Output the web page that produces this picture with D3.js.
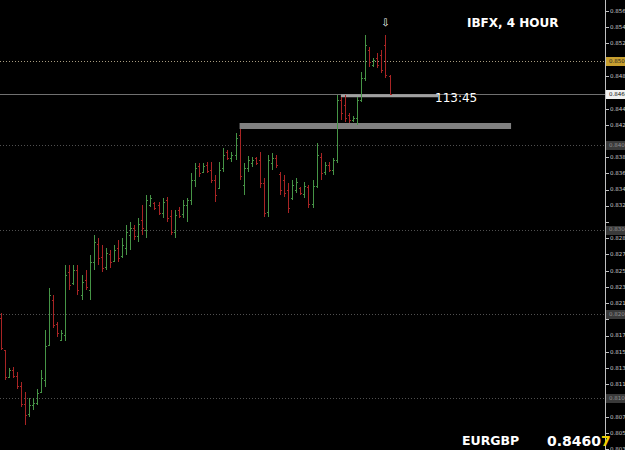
<!DOCTYPE html>
<html>
<head>
<meta charset="utf-8">
<script src="https://cdn.jsdelivr.net/npm/d3@7/dist/d3.min.js"></script>
<style>
body { margin: 0; background: #000; overflow: hidden; }
svg { display: block; }
</style>
</head>
<body>
<div id="chart-area"></div>
<script>
// EURGBP 4H bars, oldest first
var opens = [.8195,.8157,.8125,.8133,.8126,.8114,.8093,.8081,.8092,.8094,.8107,.8121,.8163,.8216,.8188,.8169,.8175,.8250,.8237,.8252,
  .8222,.8240,.8228,.8261,.8283,.8267,.8256,.8271,.8263,.8278,.8268,.8278,.8294,.8302,.8292,.8311,.8299,.8329,.8331,.8329,
  .8320,.8335,.8316,.8297,.8323,.8318,.8329,.8335,.8359,.8375,.8368,.8377,.8371,.8359,.8349,.8373,.8392,.8385,.8388,.8412,
  .8353,.8373,.8379,.8385,.8382,.8355,.8321,.8379,.8385,.8366,.8359,.8347,.8337,.8347,.8349,.8342,.8350,.8330,.8352,.8386,
  .8368,.8377,.8371,.8382,.8454,.8448,.8436,.8430,.8432,.8454,.8480,.8513,.8495,.8504,.8507,.8519,.8482]
var highs = [.8201,.8157,.8136,.8137,.8131,.8119,.8107,.8100,.8100,.8110,.8133,.8181,.8231,.8222,.8190,.8181,.8258,.8258,.8258,.8258,
  .8246,.8252,.8270,.8294,.8290,.8282,.8278,.8276,.8282,.8288,.8290,.8305,.8309,.8305,.8314,.8329,.8341,.8341,.8333,.8333,
  .8337,.8339,.8323,.8323,.8327,.8335,.8337,.8367,.8379,.8379,.8379,.8380,.8380,.8365,.8380,.8397,.8394,.8392,.8415,.8420,
  .8379,.8387,.8386,.8386,.8392,.8361,.8388,.8391,.8388,.8368,.8365,.8355,.8359,.8361,.8350,.8356,.8353,.8359,.8403,.8391,
  .8380,.8380,.8385,.8460,.8458,.8460,.8438,.8435,.8457,.8487,.8531,.8517,.8504,.8510,.8513,.8531,.8483]
var lows = [.8157,.8121,.8124,.8124,.8110,.8089,.8068,.8077,.8086,.8092,.8106,.8113,.8163,.8183,.8172,.8167,.8167,.8228,.8234,.8222,
  .8216,.8228,.8216,.8252,.8258,.8250,.8252,.8254,.8261,.8261,.8266,.8270,.8276,.8288,.8285,.8294,.8290,.8327,.8323,.8317,
  .8314,.8309,.8294,.8290,.8314,.8314,.8309,.8329,.8350,.8362,.8367,.8367,.8355,.8333,.8349,.8368,.8382,.8380,.8382,.8359,
  .8341,.8368,.8374,.8377,.8349,.8315,.8315,.8371,.8373,.8341,.8339,.8320,.8335,.8343,.8341,.8337,.8326,.8326,.8349,.8359,
  .8365,.8368,.8365,.8379,.8430,.8428,.8426,.8428,.8424,.8451,.8477,.8493,.8493,.8492,.8486,.8480,.8460]
var closes = [.8159,.8125,.8133,.8126,.8114,.8093,.8080,.8092,.8094,.8106,.8123,.8161,.8222,.8187,.8177,.8177,.8246,.8234,.8252,.8228,
  .8238,.8232,.8261,.8285,.8266,.8254,.8272,.8261,.8276,.8266,.8282,.8297,.8302,.8292,.8306,.8302,.8335,.8337,.8326,.8320,
  .8333,.8314,.8297,.8317,.8316,.8329,.8335,.8359,.8373,.8367,.8375,.8369,.8359,.8341,.8371,.8388,.8385,.8388,.8409,.8363,
  .8373,.8382,.8382,.8379,.8355,.8320,.8382,.8385,.8377,.8347,.8343,.8326,.8353,.8356,.8343,.8352,.8330,.8352,.8388,.8367,
  .8377,.8371,.8382,.8454,.8438,.8432,.8430,.8432,.8454,.8480,.8519,.8499,.8501,.8496,.8489,.8483,.84607]

var priceTicks = ['0.85600','0.85405','0.85210','0.85015','0.84820','0.84625','0.84430','0.84245','0.84050','0.83860',
  '0.83670','0.83475','0.83285','0.83090','0.82895','0.82705','0.82510','0.82320','0.82130','0.81935',
  '0.81740','0.81545','0.81350','0.81160','0.80965','0.80775','0.80580','0.80390']
var levels = [0.85, 0.84, 0.83, 0.82, 0.81]
var bid = 0.84607
var symbol = 'EURGBP'
var title = 'IBFX, 4 HOUR'
var countdown = '113:45'
var fractalBar = 95
// horizontal objects: from bar, to bar, price
var grayBand = { from: 59, to: 126, price: 0.8423 }
var lightBand = { from: 84, to: 108, price: 0.8459 }

var width = 625
var height = 450
var axisX = 605

var svg = d3.select('#chart-area').append('svg')
    .attr('width', width)
    .attr('height', height)
    .style('background', '#000')

var x = d3.scaleLinear().domain([0, 96]).range([0.5, 389.5])
var y = d3.scaleLinear().domain([0.80, 0.86]).range([482, -23])

var px = v => Math.round(v) + 0.5

// dotted round levels
svg.selectAll('.level').data(levels).enter().append('line')
    .attr('class', 'level')
    .attr('x1', 0).attr('x2', axisX)
    .attr('y1', d => px(y(d))).attr('y2', d => px(y(d)))
    .attr('stroke', (d, i) => i == 0 ? '#a89c80' : '#505050')
    .attr('stroke-dasharray', '1,2')

// bid line
svg.append('line')
    .attr('x1', 0).attr('x2', axisX)
    .attr('y1', px(y(bid))).attr('y2', px(y(bid)))
    .attr('stroke', '#707070')

// drawn bands
svg.append('line')
    .attr('x1', x(grayBand.from)).attr('x2', x(grayBand.to))
    .attr('y1', y(grayBand.price)).attr('y2', y(grayBand.price))
    .attr('stroke', '#808080').attr('stroke-width', 6)

svg.append('line')
    .attr('x1', x(lightBand.from)).attr('x2', x(lightBand.to))
    .attr('y1', y(lightBand.price)).attr('y2', y(lightBand.price))
    .attr('stroke', '#a0a0a0').attr('stroke-width', 3)

// bars
var bars = svg.append('g').attr('shape-rendering', 'crispEdges')
var idx = d3.range(opens.length)
var col = i => closes[i] >= opens[i] ? '#469446' : '#a82424'

bars.selectAll('.hl').data(idx).enter().append('line')
    .attr('x1', i => px(x(i))).attr('x2', i => px(x(i)))
    .attr('y1', i => y(highs[i])).attr('y2', i => y(lows[i]))
    .attr('stroke', col)

bars.selectAll('.op').data(idx).enter().append('line')
    .attr('x1', i => px(x(i)) - 1.5).attr('x2', i => px(x(i)))
    .attr('y1', i => px(y(opens[i]))).attr('y2', i => px(y(opens[i])))
    .attr('stroke', col)

bars.selectAll('.cl').data(idx).enter().append('line')
    .attr('x1', i => px(x(i))).attr('x2', i => px(x(i)) + 1.5)
    .attr('y1', i => px(y(closes[i]))).attr('y2', i => px(y(closes[i])))
    .attr('stroke', col)

// fractal arrow
svg.append('text')
    .attr('x', px(x(fractalBar)))
    .attr('y', y(highs[fractalBar]) - 9)
    .attr('text-anchor', 'middle')
    .attr('font-family', 'DejaVu Sans')
    .attr('font-size', '10px')
    .attr('fill', '#fff')
    .text('\u21E9')

// price axis
svg.append('line')
    .attr('x1', axisX + 0.5).attr('x2', axisX + 0.5)
    .attr('y1', 0).attr('y2', height)
    .attr('stroke', '#c0c0c0')

// labels hidden under a price box are skipped
var boxed = levels.concat([bid])
var shown = priceTicks.filter(d => boxed.every(b => Math.abs(y(+d) - y(b)) > 8))

var ticks = svg.append('g')
ticks.selectAll('line').data(priceTicks).enter().append('line')
    .attr('x1', axisX + 1).attr('x2', axisX + 4)
    .attr('y1', d => px(y(+d))).attr('y2', d => px(y(+d)))
    .attr('stroke', '#c0c0c0')
ticks.selectAll('text').data(shown).enter().append('text')
    .attr('x', axisX + 5)
    .attr('y', d => y(+d))
    .attr('dy', '0.35em')
    .attr('font-family', 'Tahoma, DejaVu Sans')
    .attr('font-size', '5.5px')
    .attr('fill', '#c8c8c8')
    .text(d => d)

// axis price boxes
function priceBox(p, bg, fg) {
    svg.append('rect')
        .attr('x', axisX + 1).attr('y', px(y(p)) - 4.5)
        .attr('width', width - axisX).attr('height', 9)
        .attr('fill', bg)
    svg.append('text')
        .attr('x', axisX + 4).attr('y', y(p))
        .attr('dy', '0.35em')
        .attr('font-family', 'Tahoma, DejaVu Sans')
        .attr('font-size', '5.5px')
        .attr('fill', fg)
        .text(d3.format('.5f')(p))
}
levels.forEach((d, i) => i == 0 ? priceBox(d, '#c8a030', '#222') : priceBox(d, '#3a3a3a', '#909090'))
priceBox(bid, '#f0f0f0', '#111')

// labels
svg.append('text')
    .attr('x', 467).attr('y', 27)
    .attr('font-family', 'DejaVu Sans')
    .attr('font-weight', 'bold')
    .attr('font-size', '12px')
    .attr('fill', '#fff')
    .text(title)

svg.append('text')
    .attr('x', 435).attr('y', y(bid) + 8)
    .attr('font-family', 'DejaVu Sans')
    .attr('font-size', '12px')
    .attr('fill', '#fff')
    .text(countdown)

svg.append('text')
    .attr('x', 462).attr('y', 445)
    .attr('font-family', 'DejaVu Sans')
    .attr('font-weight', 'bold')
    .attr('font-size', '12.5px')
    .attr('fill', '#fff')
    .text(symbol)

var bidStr = d3.format('.5f')(bid)
var bt = svg.append('text')
    .attr('x', 547).attr('y', 446)
    .attr('font-family', 'DejaVu Sans')
    .attr('font-weight', 'bold')
    .attr('font-size', '14px')
    .attr('fill', '#fff')
bt.append('tspan').text(bidStr.slice(0, -1))
bt.append('tspan').attr('fill', '#f0d000').text(bidStr.slice(-1))
</script>
</body>
</html>
